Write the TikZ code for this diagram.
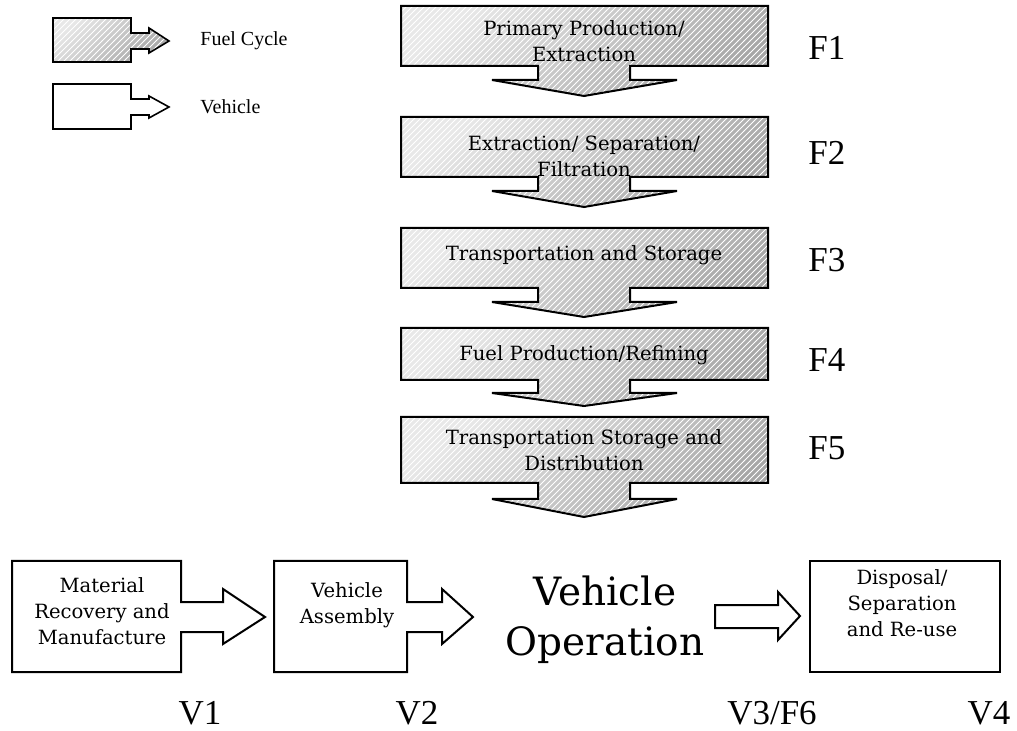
\documentclass[tikz,border=0pt]{standalone}
\usepackage{fontspec}
\setmainfont{Liberation Serif}
\newfontfamily\boxfont{DejaVu Serif}
\usetikzlibrary{patterns}
\newcommand\fuelarrow[4]{%
  \draw[fuelshape] (401,#1) -- (768,#1) -- (768,#2) -- (630,#2) -- (630,#3) -- (677,#3)
    -- (584,#4) -- (492,#3) -- (538,#3) -- (538,#2) -- (401,#2) -- cycle;}
\begin{document}
\begin{tikzpicture}[x=0.5pt,y=-0.5pt,
  fuelshape/.style={preaction={top color=gray!18, bottom color=gray!70, shading angle=40},
    preaction={pattern=north east lines, pattern color=white, fill opacity=0.3},
    draw=black, line width=1pt},
  vehshape/.style={draw=black, line width=1pt, fill=white},
  boxtext/.style={font=\boxfont\fontsize{9.8}{13}\selectfont, align=center, inner sep=0pt},
  lab/.style={font=\fontsize{17.5}{20}\selectfont, inner sep=0pt},
  legtext/.style={font=\fontsize{10}{12}\selectfont, inner sep=0pt, anchor=west}]
\useasboundingbox (0,0) rectangle (1017,731);

% legend
\draw[fuelshape, line width=0.8pt] (53,18) -- (131,18) -- (131,33) -- (149,33) -- (149,28) -- (169,41)
  -- (149,53) -- (149,49) -- (131,49) -- (131,62) -- (53,62) -- cycle;
\node[legtext] (legF) at (200,41) {Fuel Cycle};
\draw[vehshape, line width=0.8pt] (53,84) -- (131,84) -- (131,99) -- (149,99) -- (149,96) -- (169,107)
  -- (149,118) -- (149,115) -- (131,115) -- (131,129) -- (53,129) -- cycle;
\node[legtext] (legV) at (200,107) {Vehicle};

% fuel cycle chain
\fuelarrow{6}{66}{80}{96}
\fuelarrow{117}{177}{191}{207}
\fuelarrow{228}{288}{302}{317}
\fuelarrow{328}{380}{393}{406}
\fuelarrow{417}{483}{499}{517}
\node[boxtext] (f1) at (584,41) {Primary Production/\\Extraction};
\node[boxtext] (f2) at (584,156) {Extraction/ Separation/\\Filtration};
\node[boxtext] (f3) at (584,255) {Transportation and Storage};
\node[boxtext] (f4) at (584,355) {Fuel Production/Refining};
\node[boxtext] (f5) at (584,450) {Transportation Storage and\\Distribution};

\node[lab, anchor=west] (F1) at (808,48) {F1};
\node[lab, anchor=west] (F2) at (808,153) {F2};
\node[lab, anchor=west] (F3) at (808,260) {F3};
\node[lab, anchor=west] (F4) at (808,360) {F4};
\node[lab, anchor=west] (F5) at (808,448) {F5};

% vehicle chain
\draw[vehshape] (12,561) -- (181,561) -- (181,602) -- (223,602) -- (223,589) -- (265,617)
  -- (223,644) -- (223,632) -- (181,632) -- (181,672) -- (12,672) -- cycle;
\node[boxtext] (v1) at (102,611) {Material\\Recovery and\\Manufacture};
\draw[vehshape] (274,561) -- (407,561) -- (407,602) -- (442,602) -- (442,589) -- (473,617)
  -- (442,644) -- (442,632) -- (407,632) -- (407,672) -- (274,672) -- cycle;
\node[boxtext] (v2) at (347,605) {Vehicle\\Assembly};
\node[font=\boxfont\fontsize{19.5}{25}\selectfont, align=center, inner sep=0pt] (v3) at (605,620) {Vehicle\\Operation};
\draw[vehshape] (715,605) -- (778,605) -- (778,592) -- (800,616) -- (778,640) -- (778,628) -- (715,628) -- cycle;
\draw[vehshape] (810,561) rectangle (1000,672);
\node[boxtext] (v4) at (902,603) {Disposal/\\Separation\\and Re-use};

\node[lab] (V1) at (200,713) {V1};
\node[lab] (V2) at (417,713) {V2};
\node[lab] (V3) at (772,713) {V3/F6};
\node[lab] (V4) at (989,713) {V4};
\end{tikzpicture}
\end{document}
